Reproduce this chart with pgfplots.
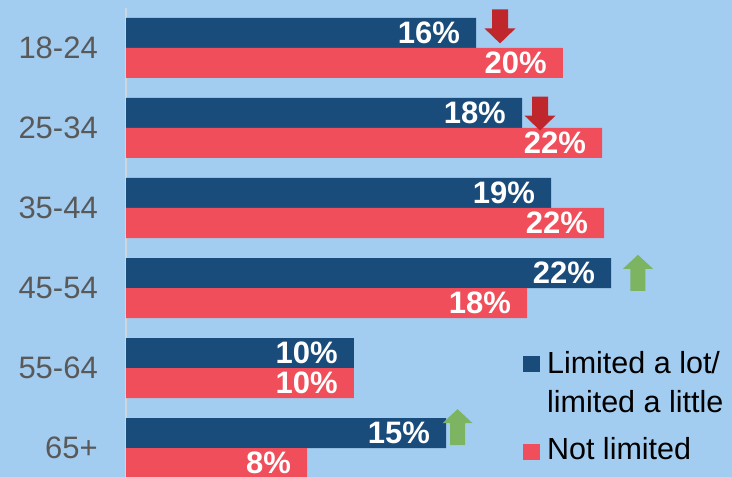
\documentclass[border=0pt]{standalone}
\usepackage{pgfplots}
\pgfplotsset{compat=1.18}
\usepackage{fontspec}
\setmainfont{Liberation Sans}
\definecolor{bg}{RGB}{163,205,240}
\definecolor{barblue}{RGB}{26,76,123}
\definecolor{barred}{RGB}{240,78,90}
\definecolor{arrred}{RGB}{192,39,45}
\definecolor{arrgreen}{RGB}{124,180,98}
\definecolor{tickgray}{RGB}{89,89,89}
\definecolor{axgray}{RGB}{205,214,222}
\pgfdeclareplotmark{arrdown}{%
  \pgfpathmoveto{\pgfpoint{-8bp}{17bp}}%
  \pgfpathlineto{\pgfpoint{8bp}{17bp}}%
  \pgfpathlineto{\pgfpoint{8bp}{-2bp}}%
  \pgfpathlineto{\pgfpoint{15.5bp}{-2bp}}%
  \pgfpathlineto{\pgfpoint{0bp}{-17bp}}%
  \pgfpathlineto{\pgfpoint{-15.5bp}{-2bp}}%
  \pgfpathlineto{\pgfpoint{-8bp}{-2bp}}%
  \pgfpathclose\pgfusepathqfill}
\pgfdeclareplotmark{arrup}{%
  \pgfpathmoveto{\pgfpoint{-7.5bp}{-18bp}}%
  \pgfpathlineto{\pgfpoint{7.5bp}{-18bp}}%
  \pgfpathlineto{\pgfpoint{7.5bp}{4bp}}%
  \pgfpathlineto{\pgfpoint{15bp}{4bp}}%
  \pgfpathlineto{\pgfpoint{0bp}{18bp}}%
  \pgfpathlineto{\pgfpoint{-15bp}{4bp}}%
  \pgfpathlineto{\pgfpoint{-7.5bp}{4bp}}%
  \pgfpathclose\pgfusepathqfill}
\pgfplotsset{
  sqlegendA/.style={legend image code/.code={\fill[##1] (0bp,-13bp) rectangle (17bp,3.5bp);}},
  sqlegendB/.style={legend image code/.code={\fill[##1] (0bp,-19.5bp) rectangle (17bp,-3bp);}}}
\pgfplotstableread{
y v lab
-0.1875 15.91 16
0.8125 18.00 18
1.8125 19.32 19
2.8125 22.05 22
3.8125 10.36 10
4.8125 14.55 15
}\blue
\pgfplotstableread{
y v lab
0.1875 19.86 20
1.1875 21.64 22
2.1875 21.73 22
3.1875 18.23 18
4.1875 10.36 10
5.1875 8.23 8
}\red
\begin{document}
\begin{tikzpicture}
\fill[bg] (0,0) rectangle (732bp,477bp);
\useasboundingbox (0,0) rectangle (732bp,477bp);
\begin{axis}[at={(126bp,0bp)}, anchor=south west, scale only axis,
  width=606bp, height=469bp,
  xmin=0, xmax=27.545, ymin=-0.5, ymax=5.3625, y dir=reverse,
  axis x line=none, axis y line=left,
  y axis line style={draw=axgray, line width=1.5bp, -},
  major tick length=0pt, ytick style={draw=none},
  ytick={0,1,2,3,4,5},
  yticklabels={18-24,25-34,35-44,45-54,55-64,65+},
  yticklabel style={font=\fontsize{31bp}{37bp}\selectfont, text=tickgray, inner sep=0pt, xshift=-28bp},
  /pgf/number format/assume math mode=true,
  legend style={at={(axis description cs:0.650,0.2889)}, anchor=north west, draw=none, fill=none,
    font=\fontsize{30.5bp}{37bp}\selectfont, row sep=7bp, column sep=7bp, nodes={inner sep=0pt}},
  legend cell align=left,
  point meta=explicit,
]
\addplot[xbar, bar width=0.375, bar shift=0pt, fill=barblue, draw=none, sqlegendA,
  nodes near coords={\pgfmathprintnumber{\pgfplotspointmeta}\%},
  every node near coord/.append style={anchor=east, inner sep=0pt, xshift=-16bp, text=white,
    font=\fontsize{31bp}{37bp}\selectfont\bfseries}]
  table[x=v, y=y, meta=lab] {\blue};
\addlegendentry{\rule{0pt}{30bp}Limited a lot/}
\addlegendimage{empty legend}
\addlegendentry{\rule{0pt}{30bp}limited a little}
\addplot[xbar, bar width=0.375, bar shift=0pt, fill=barred, draw=none, sqlegendB,
  nodes near coords={\pgfmathprintnumber{\pgfplotspointmeta}\%},
  every node near coord/.append style={anchor=east, inner sep=0pt, xshift=-16bp, text=white,
    font=\fontsize{31bp}{37bp}\selectfont\bfseries}]
  table[x=v, y=y, meta=lab] {\red};
\addlegendentry{\rule{0pt}{39bp}Not limited}
\addplot[only marks, mark=arrdown, color=arrred, forget plot, point meta=none]
  coordinates {(17.0,-0.27) (18.82,0.82)};
\addplot[only marks, mark=arrup, color=arrgreen, forget plot, point meta=none]
  coordinates {(23.27,2.81) (15.07,4.74)};
\end{axis}
\end{tikzpicture}
\end{document}
